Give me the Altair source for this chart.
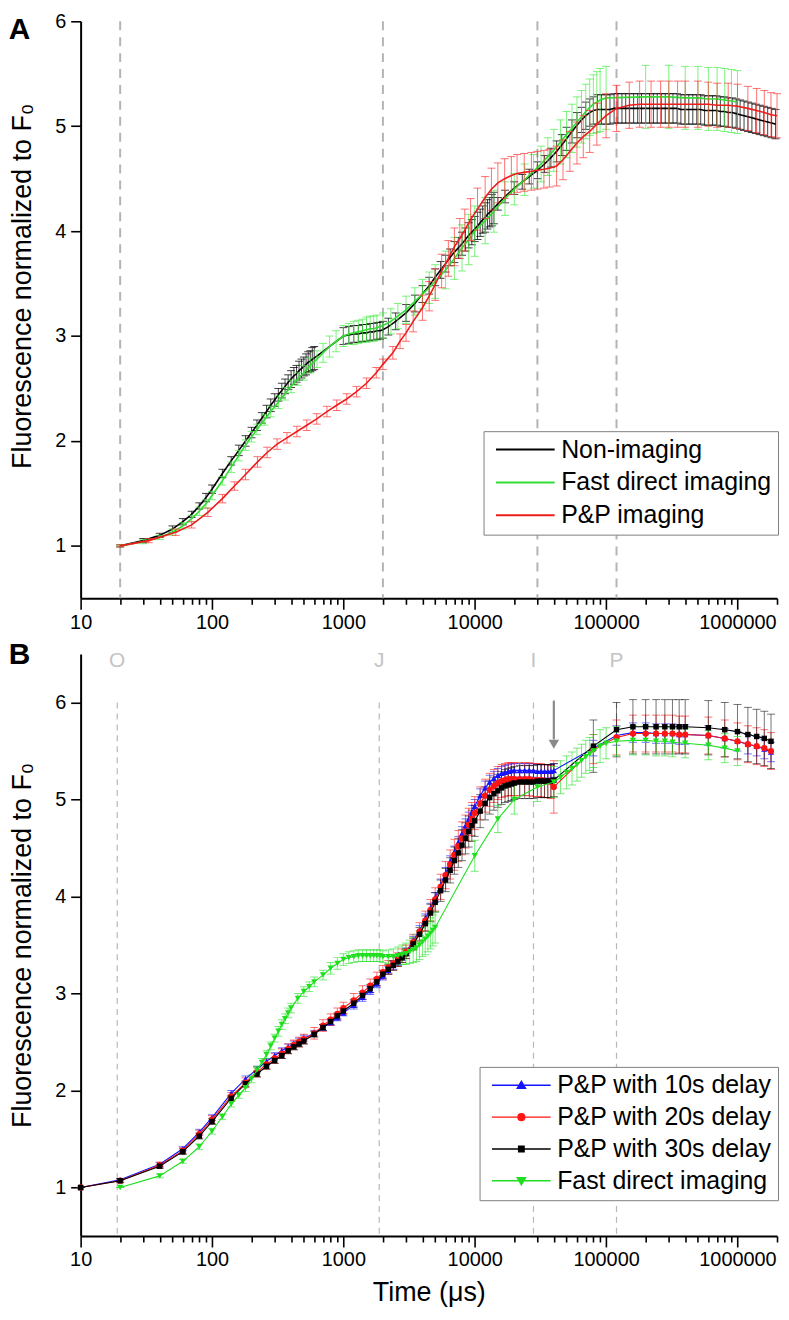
import altair as alt
import pandas as pd

FONT = "Liberation Sans"

# ---------------- Panel A data ----------------
A_NAMES = ["Non-imaging", "Fast direct imaging", "P&P imaging"]
A_COLORS = ["#000000", "#33dd33", "#ee1c1c"]

a_black_t = [20, 30, 40, 50, 60, 70, 80, 90, 100,
             120, 140, 160, 180, 200, 220, 240, 260, 280, 300, 320, 340, 360, 380, 400,
             420, 440, 460, 480, 500, 520, 540, 560, 580, 600,
             1000, 1100, 1200, 1300, 1400, 1500, 1600, 1700, 1800, 1900, 2000,
             2200, 2500, 3000, 3500, 4000, 4500, 5000, 5500, 6000, 6500, 7000, 7500, 8000,
             8500, 9000, 9500, 10000, 10500, 11000, 11500, 12000, 12500, 13000, 13500, 14000,
             15000, 17000, 20000, 23000, 26000, 30000, 34000, 38000, 42000, 46000, 50000,
             55000, 60000, 65000, 70000, 75000, 80000,
             86000, 92000, 100000, 107000, 115000, 123000, 132000, 141000, 151000, 162000,
             174000, 186000, 200000, 214000, 229000, 245000, 263000, 282000, 302000, 323000,
             347000, 371000, 398000, 426000, 457000, 490000, 525000, 562000, 603000, 646000,
             692000, 741000, 794000, 851000, 912000, 977000, 1047000, 1122000, 1202000, 1288000,
             1380000, 1479000, 1585000, 1698000, 1820000, 1950000]
a_black_v = [1.00, 1.05, 1.10, 1.16, 1.23, 1.30, 1.38, 1.46, 1.54,
             1.69, 1.81, 1.91, 2.00, 2.08, 2.15, 2.22, 2.28, 2.34, 2.39, 2.44, 2.48, 2.52, 2.56, 2.59,
             2.62, 2.64, 2.67, 2.69, 2.71, 2.73, 2.75, 2.76, 2.78, 2.79,
             3.00, 3.01, 3.02, 3.02, 3.03, 3.03, 3.04, 3.04, 3.05, 3.05, 3.06,
             3.09, 3.14, 3.22, 3.31, 3.40, 3.48, 3.56, 3.63, 3.69, 3.75, 3.80, 3.84, 3.88,
             3.92, 3.96, 3.99, 4.02, 4.05, 4.08, 4.11, 4.13, 4.16, 4.18, 4.20, 4.22,
             4.26, 4.33, 4.41, 4.47, 4.52, 4.58, 4.64, 4.70, 4.76, 4.82, 4.88,
             4.95, 5.01, 5.06, 5.10, 5.13, 5.15,
             5.16, 5.16, 5.16, 5.16, 5.17, 5.17, 5.17, 5.17, 5.17, 5.17,
             5.17, 5.17, 5.17, 5.17, 5.17, 5.17, 5.17, 5.17, 5.17, 5.17,
             5.17, 5.16, 5.16, 5.16, 5.16, 5.16, 5.16, 5.15, 5.15, 5.15,
             5.15, 5.14, 5.14, 5.13, 5.13, 5.12, 5.11, 5.10, 5.09, 5.08,
             5.07, 5.06, 5.05, 5.04, 5.03, 5.02]
a_black_e = ([0.01, 0.02, 0.02, 0.03, 0.03, 0.03, 0.03, 0.04, 0.04,
              0.04, 0.04, 0.05, 0.05, 0.05, 0.05, 0.05, 0.06, 0.06, 0.06, 0.06, 0.07, 0.07, 0.07, 0.08,
              0.08, 0.08, 0.09, 0.09, 0.09, 0.10, 0.10, 0.10, 0.11, 0.11]
             + [0.08] * 11
             + [0.08] * 10 + [0.10, 0.10, 0.11, 0.11, 0.12, 0.12, 0.12, 0.13, 0.13, 0.13,
                              0.14, 0.14, 0.14, 0.15, 0.15]
             + [0.06, 0.06, 0.06, 0.07, 0.07, 0.08, 0.08, 0.09, 0.10, 0.10, 0.11,
                0.11, 0.12, 0.12, 0.13, 0.13, 0.13]
             + [0.14] * 46)

a_green_t = [20, 30, 40, 50, 60, 70, 80, 90, 100,
             120, 140, 160, 180, 200, 220,
             250, 280, 320, 360, 400, 450, 500, 560, 630, 700, 785, 880,
             1000, 1100, 1200, 1300, 1400, 1500, 1600, 1700, 1800,
             2000, 2300, 2600, 3000, 3500, 4000, 4500, 5000,
             6000, 7000, 8000, 9000, 10000, 12000, 14000,
             17000, 20000, 24000, 28000, 32000, 36000, 40000,
             45000, 50000, 55000, 60000, 65000, 70000, 75000, 80000, 85000, 90000, 100000,
             200000, 300000, 400000, 500000, 600000, 700000, 800000, 900000, 1000000]
a_green_v = [1.00, 1.04, 1.08, 1.13, 1.19, 1.26, 1.33, 1.40, 1.48,
             1.62, 1.75, 1.86, 1.96, 2.04, 2.11,
             2.20, 2.28, 2.37, 2.45, 2.52, 2.59, 2.65, 2.72, 2.78, 2.84, 2.90, 2.95,
             3.00, 3.02, 3.03, 3.04, 3.05, 3.06, 3.07, 3.07, 3.08,
             3.10, 3.14, 3.19, 3.25, 3.33, 3.40, 3.46, 3.52,
             3.63, 3.74, 3.84, 3.92, 4.00, 4.10, 4.19,
             4.31, 4.40, 4.49, 4.57, 4.64, 4.71, 4.77,
             4.85, 4.92, 4.98, 5.04, 5.09, 5.14, 5.18, 5.21, 5.23, 5.25, 5.27,
             5.28, 5.28, 5.27, 5.27, 5.26, 5.26, 5.25, 5.24, 5.23]
a_green_e = ([0.01, 0.02, 0.02, 0.03, 0.03, 0.03, 0.04, 0.04, 0.04,
              0.04, 0.05, 0.05, 0.05, 0.05, 0.05,
              0.05, 0.05, 0.06, 0.06, 0.06, 0.06, 0.07, 0.07, 0.08, 0.09, 0.10, 0.10,
              0.10, 0.10, 0.11, 0.11, 0.11, 0.12, 0.12, 0.12, 0.12,
              0.12, 0.12, 0.12, 0.13, 0.13, 0.14, 0.15, 0.16,
              0.18, 0.20, 0.22, 0.24, 0.24, 0.22, 0.20,
              0.16, 0.15, 0.15, 0.16, 0.17, 0.18, 0.20,
              0.21, 0.22, 0.23, 0.24, 0.25, 0.26, 0.27, 0.28, 0.29, 0.30, 0.30]
             + [0.30] * 9)

a_red_t = [20, 33, 53, 70, 93,
           120, 148, 180, 222, 263, 313, 372, 443, 527, 627,
           750, 890, 1060, 1260, 1500, 1780, 2000,
           2380, 2700, 3000, 3400, 4000, 4500, 5000,
           5600, 6300, 7000, 7700, 8400, 9300, 10500,
           12000, 13400, 15000, 16900, 19000, 21000, 23800,
           27000, 30000, 33600, 37000, 42000, 47000, 53000,
           60000, 67000, 75000, 85000, 100000, 120000, 150000,
           180000, 220000, 260000, 300000, 350000, 400000, 500000,
           600000, 700000, 850000, 1000000, 1200000, 1400000, 1600000, 1800000, 2000000]
a_red_v = [1.00, 1.05, 1.13, 1.20, 1.32,
           1.45, 1.57, 1.68, 1.80, 1.89, 1.97, 2.03, 2.09, 2.15, 2.21,
           2.28, 2.34, 2.40, 2.47, 2.55, 2.65, 2.73,
           2.84, 2.95, 3.03, 3.14, 3.27, 3.38, 3.49,
           3.62, 3.74, 3.85, 3.93, 4.01, 4.11, 4.21,
           4.32, 4.40, 4.46, 4.50, 4.53, 4.55, 4.56,
           4.57, 4.58, 4.59, 4.60, 4.62, 4.68, 4.76,
           4.84, 4.90, 4.95, 5.02, 5.10, 5.17, 5.20,
           5.21, 5.21, 5.21, 5.21, 5.21, 5.21, 5.21,
           5.21, 5.20, 5.20, 5.19, 5.17, 5.15, 5.13, 5.11, 5.10]
a_red_e = [0.01, 0.02, 0.03, 0.03, 0.04,
           0.04, 0.04, 0.05, 0.05, 0.05, 0.05, 0.05, 0.05, 0.05, 0.05,
           0.05, 0.05, 0.05, 0.05, 0.05, 0.05, 0.05,
           0.06, 0.07, 0.08, 0.10, 0.12, 0.14, 0.15,
           0.16, 0.17, 0.18, 0.19, 0.20, 0.20, 0.20,
           0.20, 0.20, 0.19, 0.19, 0.18, 0.18, 0.18,
           0.18, 0.18, 0.18, 0.18, 0.19, 0.19, 0.19,
           0.20, 0.20, 0.20, 0.20, 0.21, 0.22, 0.22,
           0.22, 0.22, 0.22, 0.22, 0.22, 0.22, 0.22,
           0.21, 0.21, 0.21, 0.21, 0.21, 0.21, 0.21, 0.21, 0.21]

A_PHASE_T = [20, 2000, 30000, 120000]

# ---------------- Panel B data ----------------
B_NAMES = ["P&P with 10s delay", "P&P with 20s delay", "P&P with 30s delay", "Fast direct imaging"]
B_COLORS = ["#1414ff", "#ff1414", "#000000", "#1fe01f"]
B_SHAPES = ["triangle-up", "circle", "square", "triangle-down"]

b_pp_t = [10, 20, 40, 60, 80, 100,
          140, 180, 220, 260, 300, 340, 380, 420, 460, 500,
          600, 700, 800, 900, 1000,
          1200, 1400, 1600, 1800, 2000,
          2200, 2400, 2600, 2800, 3000,
          3400, 3800, 4200, 4600, 5000,
          5500, 6000, 6500, 7000, 7500,
          8000, 8500, 9000, 9500, 10000,
          11000, 12000, 13000, 14000, 15000, 16000, 17000, 18000, 19000, 20000,
          22000, 24000, 26000, 28000, 30000, 32000, 34000, 36000, 38000, 40000,
          80000, 120000, 160000, 200000, 240000,
          280000, 320000, 360000, 400000, 600000,
          800000, 1000000, 1200000, 1400000, 1600000, 1800000]
b_10_v = [1.00, 1.08, 1.24, 1.40, 1.57, 1.72,
          1.97, 2.12, 2.22, 2.30, 2.36, 2.41, 2.45, 2.48, 2.51, 2.54,
          2.59, 2.65, 2.70, 2.75, 2.80,
          2.88, 2.96, 3.03, 3.10, 3.18,
          3.24, 3.29, 3.33, 3.38, 3.43,
          3.54, 3.65, 3.77, 3.88, 3.99,
          4.12, 4.24, 4.36, 4.46, 4.56,
          4.65, 4.73, 4.80, 4.87, 4.93,
          5.04, 5.12, 5.18, 5.22, 5.25, 5.27, 5.28, 5.29, 5.30, 5.30,
          5.30, 5.30, 5.30, 5.30, 5.29, 5.29, 5.29, 5.29, 5.29, 5.30,
          5.53, 5.66, 5.69, 5.69, 5.68,
          5.68, 5.68, 5.67, 5.67, 5.66,
          5.63, 5.60, 5.57, 5.55, 5.52, 5.49]
b_10_e = ([0.00, 0.01, 0.02, 0.02, 0.03, 0.03] + [0.03] * 15 + [0.04] * 10 + [0.05] * 5
          + [0.06] * 5 + [0.07] * 25 + [0.08, 0.10, 0.10, 0.10, 0.10] + [0.10] * 11)
b_20_v = [1.00, 1.07, 1.23, 1.38, 1.55, 1.70,
          1.94, 2.08, 2.19, 2.27, 2.33, 2.38, 2.43, 2.47, 2.50, 2.53,
          2.59, 2.67, 2.73, 2.79, 2.85,
          2.93, 3.01, 3.08, 3.15, 3.22,
          3.27, 3.31, 3.35, 3.39, 3.43,
          3.53, 3.64, 3.75, 3.86, 3.97,
          4.10, 4.22, 4.33, 4.43, 4.52,
          4.60, 4.67, 4.74, 4.80, 4.86,
          4.96, 5.04, 5.10, 5.14, 5.17, 5.19, 5.20, 5.21, 5.21, 5.21,
          5.21, 5.21, 5.21, 5.20, 5.20, 5.20, 5.19, 5.19, 5.18, 5.13,
          5.52, 5.64, 5.68, 5.68, 5.68,
          5.68, 5.68, 5.67, 5.67, 5.66,
          5.63, 5.60, 5.57, 5.55, 5.53, 5.50]
b_20_e = ([0.00, 0.02, 0.03, 0.03, 0.04, 0.04]
          + [0.04, 0.05, 0.05, 0.05, 0.05, 0.05, 0.05, 0.05, 0.05, 0.05]
          + [0.06] * 5 + [0.07] * 10 + [0.08, 0.09, 0.10, 0.11, 0.12]
          + [0.13, 0.14, 0.15, 0.16, 0.16] + [0.17] * 24 + [0.27]
          + [0.15, 0.18, 0.19, 0.19, 0.19] + [0.19] * 11)
b_30_v = [1.00, 1.07, 1.22, 1.37, 1.53, 1.68,
          1.92, 2.07, 2.17, 2.25, 2.31, 2.36, 2.41, 2.45, 2.48, 2.51,
          2.58, 2.65, 2.71, 2.77, 2.82,
          2.90, 2.98, 3.05, 3.12, 3.20,
          3.25, 3.29, 3.33, 3.37, 3.41,
          3.51, 3.61, 3.72, 3.83, 3.94,
          4.06, 4.17, 4.27, 4.37, 4.45,
          4.53, 4.60, 4.67, 4.73, 4.78,
          4.88, 4.96, 5.02, 5.06, 5.09, 5.12, 5.14, 5.15, 5.16, 5.17,
          5.18, 5.18, 5.18, 5.18, 5.19, 5.19, 5.19, 5.19, 5.19, 5.20,
          5.55, 5.72, 5.75, 5.75, 5.75,
          5.75, 5.75, 5.75, 5.75, 5.74,
          5.72, 5.70, 5.67, 5.65, 5.63, 5.60]
b_30_e = ([0.00, 0.02, 0.02, 0.03, 0.03, 0.03] + [0.03] * 15 + [0.04] * 5 + [0.05] * 5
          + [0.06, 0.07, 0.08, 0.09, 0.10] + [0.11, 0.12, 0.13, 0.14, 0.15] + [0.16] * 5
          + [0.17] * 20 + [0.27, 0.28, 0.28, 0.28, 0.28] + [0.28] * 11)

b_g_t = [20, 40, 60, 80, 100,
         120, 140, 160, 180, 200, 220, 240, 260, 280, 300, 320, 340, 360, 380, 400,
         450, 500, 550, 600,
         700, 800, 900, 1000,
         1100, 1200, 1300, 1400, 1500, 1600, 1700, 1800, 1900, 2000,
         2200, 2400, 2600, 2800, 3000, 3200, 3400, 3600, 3800, 4000, 4200, 4400, 4600, 4800, 5000,
         10000, 15000, 20000, 30000, 40000,
         45000, 50000, 55000, 60000, 65000, 70000, 75000, 80000,
         90000, 100000, 120000,
         160000, 200000, 240000, 280000, 320000, 400000,
         600000, 800000, 1000000]
b_g_v = [1.00, 1.12, 1.27, 1.42, 1.58,
         1.73, 1.86, 1.95, 2.03, 2.12, 2.21, 2.29, 2.37, 2.46, 2.54, 2.61, 2.68, 2.74, 2.80, 2.85,
         2.95, 3.02, 3.07, 3.12,
         3.19, 3.26, 3.31, 3.35,
         3.37, 3.38, 3.39, 3.39, 3.39, 3.39, 3.39, 3.39, 3.39, 3.38,
         3.38, 3.38, 3.39, 3.40, 3.41, 3.43, 3.45, 3.47, 3.50, 3.53, 3.56, 3.59, 3.62, 3.65, 3.68,
         4.42, 4.80, 5.00, 5.13, 5.18,
         5.23, 5.28, 5.32, 5.36, 5.40, 5.44, 5.47, 5.50,
         5.55, 5.58, 5.60,
         5.61, 5.61, 5.60, 5.60, 5.59, 5.58,
         5.56, 5.53, 5.50]
b_g_e = ([0.00, 0.02, 0.02, 0.03, 0.03]
         + [0.03, 0.03, 0.03, 0.04, 0.04, 0.04, 0.04, 0.04, 0.04, 0.04, 0.05, 0.05, 0.05, 0.05, 0.05]
         + [0.05] * 4 + [0.05, 0.06, 0.06, 0.06] + [0.06] * 10
         + [0.07, 0.08, 0.09, 0.10, 0.11, 0.12, 0.13, 0.14, 0.15, 0.15, 0.16, 0.16, 0.16, 0.16, 0.16]
         + [0.16, 0.14, 0.15, 0.15, 0.16] + [0.17] * 8 + [0.17, 0.16, 0.15] + [0.15] * 9)

B_PHASE_T = [19, 1875, 28000, 120000]
B_PHASE_LABELS = ["O", "J", "I", "P"]
B_PHASE_LABEL_Y = 6.43
B_PHASE_TOP = 6.0
ARROW_T = [40000]
ARROW_FROM = [6.02]
ARROW_TO = [5.62]
ARROW_TIP = [5.57]

X_TICKS = [m * 10 ** k for k in range(1, 6) for m in range(1, 10)] + [1000000, 2000000]
Y_TICKS_A = [1, 1.5, 2, 2.5, 3, 3.5, 4, 4.5, 5, 5.5, 6]
Y_TICKS_B = [1, 1.5, 2, 2.5, 3, 3.5, 4, 4.5, 5, 5.5, 6]

PLOT_W = 700


def make_df(name, t, v, e):
    assert len(t) == len(v) == len(e), (name, len(t), len(v), len(e))
    return pd.DataFrame({"series": name, "t": t, "v": v,
                         "lo": [a - b for a, b in zip(v, e)],
                         "hi": [a + b for a, b in zip(v, e)]})


xs = alt.Scale(type="log", domain=[10, 2000000], nice=False)
ysA = alt.Scale(domain=[0.5, 6], nice=False, zero=False)
ysB = alt.Scale(domain=[0.5, 6.5], nice=False, zero=False)

X_MAJOR_TEST = "indexof([10,100,1000,10000,100000,1000000], datum.value) >= 0"
X_LABEL_EXPR = ("indexof(['10','100','1000','10000','100000','1000000'], datum.label) >= 0 "
                "? datum.label : ''")
YTITLE = "Fluorescence normalized to F\u2080"


def x_axis(title):
    return alt.Axis(values=X_TICKS, format="d", labelExpr=X_LABEL_EXPR,
                    tickSize={"condition": {"test": X_MAJOR_TEST, "value": 11}, "value": 6},
                    labelPadding=3, labelFlush=False, labelOverlap=False, titlePadding=10,
                    title=title)


def y_axis(vals, **extra):
    return alt.Axis(values=vals, format="d", title=YTITLE,
                    labelExpr="datum.value % 1 === 0 ? datum.label : ''",
                    tickSize={"condition": {"test": "datum.value % 1 === 0", "value": 10}, "value": 6},
                    labelPadding=5, titlePadding=18, labelOverlap=False, **extra)


XA = x_axis(None)
YA = y_axis(Y_TICKS_A, titleY=266)
XB = x_axis("Time (\u03bcs)")
YB = y_axis(Y_TICKS_B)


def err_layers(df, color, ys, op, xax, yax):
    rule = alt.Chart(df).mark_rule(color=color, strokeWidth=1, opacity=op).encode(
        x=alt.X("t:Q", scale=xs, axis=xax),
        y=alt.Y("lo:Q", scale=ys, axis=yax), y2="hi:Q")
    caps = alt.Chart(df).transform_fold(["lo", "hi"], as_=["end", "yv"]).mark_tick(
        color=color, orient="horizontal", size=8, thickness=1, opacity=op).encode(
        x=alt.X("t:Q", scale=xs, axis=xax),
        y=alt.Y("yv:Q", scale=ys, axis=yax))
    return [rule, caps]


LINE_PATH = "M-1,0H8.83"
A_legend = alt.Legend(title=None, orient="none", legendX=405, legendY=412,
                      symbolType=LINE_PATH, symbolSize=144, symbolStrokeWidth=2,
                      labelFont=FONT, labelFontSize=25, labelColor="black", labelOffset=47,
                      rowPadding=7, padding=6, strokeColor="#7f7f7f", fillColor="white",
                      labelLimit=400)

# ---------------- Panel A ----------------
a_frames = [make_df(A_NAMES[0], a_black_t, a_black_v, a_black_e),
            make_df(A_NAMES[1], a_green_t, a_green_v, a_green_e),
            make_df(A_NAMES[2], a_red_t, a_red_v, a_red_e)]
a_err_colors = ["#000000", "#44ee44", "#ff3333"]
a_err_op = [0.75, 0.7, 0.7]

a_layers = []
for i, df in enumerate(a_frames):
    a_layers += err_layers(df, a_err_colors[i], ysA, a_err_op[i], XA, YA)
    a_layers.append(alt.Chart(df).mark_line(strokeWidth=1.6).encode(
        x=alt.X("t:Q", scale=xs, axis=XA),
        y=alt.Y("v:Q", scale=ysA, axis=YA),
        color=alt.Color("series:N", scale=alt.Scale(domain=A_NAMES, range=A_COLORS),
                        legend=A_legend)))
vA = alt.Chart(pd.DataFrame({"t": A_PHASE_T})).mark_rule(
    color="#b4b4b4", strokeWidth=2, strokeDash=[9, 7]).encode(
    x=alt.X("t:Q", scale=xs, axis=XA),
    y=alt.YDatum(6, type="quantitative", scale=ysA, axis=YA),
    y2=alt.Y2Datum(0.5))
a_layers.insert(0, vA)

panelA = alt.layer(*a_layers).properties(
    width=PLOT_W, height=580,
    title=alt.TitleParams("A", anchor="start", frame="bounds", fontSize=30, fontWeight="bold",
                          font=FONT, color="black", offset=-58, baseline="alphabetic"))

# ---------------- Panel B ----------------
b_frames = [make_df(B_NAMES[0], b_pp_t, b_10_v, b_10_e),
            make_df(B_NAMES[1], b_pp_t, b_20_v, b_20_e),
            make_df(B_NAMES[2], b_pp_t, b_30_v, b_30_e),
            make_df(B_NAMES[3], b_g_t, b_g_v, b_g_e)]
b_op = [0.6, 0.6, 0.55, 0.6]
b_sizes = [40, 40, 30, 40]

# legend symbols: a line segment with the series marker at its middle
MARK_PATHS = [
    "M3.92,-0.65L4.6,0.5L3.24,0.5Z",
    "M3.37,0A0.55,0.55 0 1,0 4.47,0A0.55,0.55 0 1,0 3.37,0Z",
    "M3.47,-0.45H4.37V0.45H3.47Z",
    "M3.92,0.65L4.6,-0.5L3.24,-0.5Z",
]
B_LEGEND_PATHS = [LINE_PATH + p for p in MARK_PATHS]

B_legend = alt.Legend(title=None, orient="none", legendX=401, legendY=415,
                      symbolSize=144, symbolStrokeWidth=1.5, symbolOpacity=1,
                      labelFont=FONT, labelFontSize=25, labelColor="black", labelOffset=47,
                      rowPadding=6, padding=6, strokeColor="#7f7f7f", fillColor="white",
                      labelLimit=400)

b_layers = []
b_layers.append(alt.Chart(pd.DataFrame({"t": B_PHASE_T})).mark_rule(
    color="#b8b8b8", strokeWidth=1.2, strokeDash=[6, 5]).encode(
    x=alt.X("t:Q", scale=xs, axis=XB),
    y=alt.YDatum(B_PHASE_TOP, type="quantitative", scale=ysB, axis=YB),
    y2=alt.Y2Datum(0.5)))
b_layers.append(alt.Chart(pd.DataFrame({"t": B_PHASE_T, "lab": B_PHASE_LABELS})).mark_text(
    font=FONT, fontSize=21, color="#c4c4c4", baseline="middle").encode(
    x=alt.X("t:Q", scale=xs, axis=XB),
    y=alt.YDatum(B_PHASE_LABEL_Y, type="quantitative", scale=ysB, axis=YB),
    text="lab:N"))
for i, df in enumerate(b_frames):
    b_layers += err_layers(df, B_COLORS[i], ysB, b_op[i], XB, YB)
for i, df in enumerate(b_frames):
    b_layers.append(alt.Chart(df).mark_line(strokeWidth=1.1, color=B_COLORS[i]).encode(
        x=alt.X("t:Q", scale=xs, axis=XB),
        y=alt.Y("v:Q", scale=ysB, axis=YB)))
    b_layers.append(alt.Chart(df).mark_point(
        shape=B_SHAPES[i], filled=True, size=b_sizes[i], color=B_COLORS[i], opacity=1).encode(
        x=alt.X("t:Q", scale=xs, axis=XB),
        y=alt.Y("v:Q", scale=ysB, axis=YB)))

# invisible carrier layer that only produces the legend
legend_df = pd.concat([f.head(1) for f in b_frames], ignore_index=True)
b_layers.append(alt.Chart(legend_df).mark_point(opacity=0).encode(
    x=alt.X("t:Q", scale=xs, axis=XB),
    y=alt.Y("v:Q", scale=ysB, axis=YB),
    fill=alt.Fill("series:N", scale=alt.Scale(domain=B_NAMES, range=B_COLORS), legend=B_legend),
    stroke=alt.Stroke("series:N", scale=alt.Scale(domain=B_NAMES, range=B_COLORS), legend=B_legend),
    shape=alt.Shape("series:N", scale=alt.Scale(domain=B_NAMES, range=B_LEGEND_PATHS),
                    legend=B_legend)))

arrow_df = pd.DataFrame({"t": ARROW_T, "top": ARROW_FROM, "bottom": ARROW_TO, "tip": ARROW_TIP})
b_layers.append(alt.Chart(arrow_df).mark_rule(color="#8a8a8a", strokeWidth=2.2).encode(
    x=alt.X("t:Q", scale=xs, axis=XB),
    y=alt.Y("top:Q", scale=ysB, axis=YB), y2="bottom:Q"))
b_layers.append(alt.Chart(arrow_df).mark_point(
    shape="triangle-down", filled=True, size=110, color="#8a8a8a", opacity=1).encode(
    x=alt.X("t:Q", scale=xs, axis=XB),
    y=alt.Y("tip:Q", scale=ysB, axis=YB)))

panelB = alt.layer(*b_layers).properties(
    width=PLOT_W, height=585,
    title=alt.TitleParams("B", anchor="start", frame="bounds", fontSize=30, fontWeight="bold",
                          font=FONT, color="black", offset=-44, baseline="alphabetic"))

chart = alt.vconcat(panelA, panelB, spacing=7).resolve_scale(
    color="independent", fill="independent", stroke="independent", shape="independent",
    x="independent", y="independent").resolve_legend(
    color="independent", fill="independent", stroke="independent", shape="independent"
).properties(padding=0).configure_view(stroke=None).configure_axis(
    labelFont=FONT, titleFont=FONT, labelFontSize=20, titleFontSize=27, titleFontWeight="normal",
    labelColor="black", titleColor="black", domainColor="black", tickColor="black",
    domainWidth=2, tickWidth=1.6, grid=False)

chart.save("out.html", embed_options={"renderer": "svg", "actions": False})
